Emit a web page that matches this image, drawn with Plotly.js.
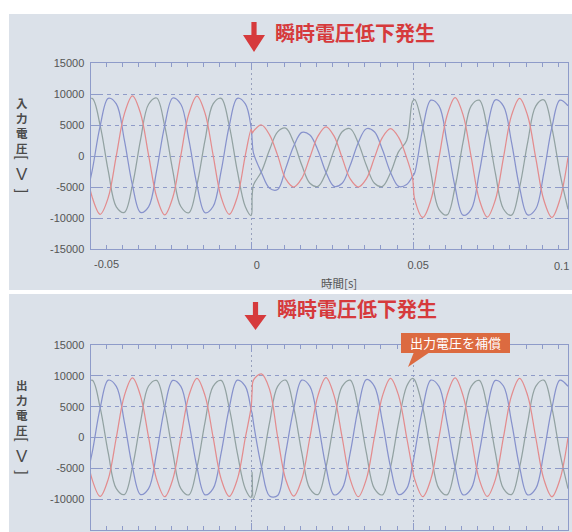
<!DOCTYPE html>
<html><head><meta charset="utf-8">
<script src="https://cdn.plot.ly/plotly-3.0.1.min.js"></script>
<style>html,body{margin:0;padding:0;background:#fff;}#chart{width:572px;height:532px;}</style>
</head><body><div id="chart"></div>
<script>
// time [s]
const t = [-0.052,-0.0495,-0.047,-0.0445,-0.042,-0.0395,-0.037,-0.0345,-0.032,-0.0295,-0.027,-0.0245,-0.022,-0.0195,-0.017,-0.0145,-0.012,-0.0095,-0.007,-0.0045,-0.002,
 -0.0002,0.0001,
 0.0005,0.003,0.0055,0.008,0.0105,0.013,0.0155,0.018,0.0205,0.023,0.0255,0.028,0.0305,0.033,0.0355,0.038,0.0405,0.043,0.0455,0.048,
 0.0498,
 0.0505,0.053,0.0555,0.058,0.0605,0.063,0.0655,0.068,0.0705,0.073,0.0755,0.078,0.0805,0.083,0.0855,0.088,0.0905,0.093,0.0955,0.098];

// input voltage [V]
const inR = [150,-6600,-9400,-6700,50,6800,9700,6900,150,-6600,-9500,-6700,100,6850,9650,6900,150,-6650,-9400,-6600,150,
 4300,3700,
 4000,5000,3400,100,-3700,-5000,-3600,-200,3200,4700,3200,-300,-3700,-5000,-3700,-300,3000,4400,3000,-300,
 -3500,
 -7000,-9900,-7100,-300,6500,9400,6600,-200,-7000,-9850,-7050,-250,6550,9300,6500,-300,-7100,-9900,-7000,-200];
const inG = [8400,9300,4900,-2400,-8200,-9100,-4700,2600,8350,9350,4850,-2350,-8150,-9150,-4650,2550,8400,9300,4900,-2400,-8200,
 -9600,-6500,
 -4700,-2500,1000,3900,4500,2200,-1500,-4400,-4900,-2700,950,3900,4400,2100,-1500,-4400,-4900,-2700,700,2500,
 8800,
 9100,4600,-2700,-8600,-9500,-5000,2300,8100,9000,4500,-2800,-8550,-9550,-5050,2200,8050,9050,4550,-2750,-8600];
const inB = [-8150,-2400,4850,9300,8400,2550,-4700,-9100,-8200,-2350,4900,9350,8350,2600,-4650,-9150,-8150,-2400,4850,9300,8400,
 4500,2500,
 500,-2700,-5200,-5400,-2000,1600,3800,3400,900,-2650,-4900,-4400,-1500,2150,4400,3900,1000,-2650,-4900,-4600,
 -3300,
 -2700,4500,9000,8100,2250,-5000,-9550,-8600,-2700,4550,9050,8050,2200,-5100,-9500,-8550,-2750,4600,9000,8100];

// output voltage [V]
const outR = [50,-6800,-9550,-6750,0,6800,9650,6750,50,-6800,-9600,-6800,0,6800,9600,6800,50,-6750,-9550,-6800,0,
 5000,7500,
 9300,10300,7800,100,-6800,-9500,-6750,0,6800,9700,6800,0,-6800,-9600,-6750,50,6750,9600,6800,0,
 -5150,
 -6800,-9600,-6750,0,6800,9650,6750,0,-6800,-9550,-6800,50,6800,9600,6800,0,-6750,-9600,-6800,0];
const outG = [8300,9300,4800,-2500,-8300,-9250,-4800,2500,8350,9250,4750,-2450,-8300,-9300,-4850,2500,8300,9250,4800,-2500,-8350,
 -9700,-5600,
 -9900,-4900,2400,8300,9300,4800,-2500,-8300,-9250,-4800,2500,8300,9300,4800,-2450,-8300,-9300,-4800,2500,8300,
 9600,
 9300,4800,-2500,-8300,-9300,-4800,2500,8300,9250,4850,-2500,-8300,-9250,-4800,2450,8300,9300,4800,-2500,-8300];
const outB = [-8300,-2500,4800,9300,8300,2500,-4800,-9250,-8300,-2500,4850,9250,8300,2450,-4800,-9300,-8300,-2500,4800,9300,8300,
 4450,3900,
 2400,-4800,-9500,-9400,-2500,4700,9300,8300,2500,-4800,-9300,-8300,-2500,4800,9400,8300,2500,-4800,-9250,-8300,
 -4450,
 -2500,4800,9300,8300,2500,-4800,-9300,-8300,-2450,4800,9250,8350,2500,-4800,-9300,-8300,-2500,4750,9300,8300];

const xTickVals = [-0.05, 0, 0.05, 0.1];
const xTickText = ['-0.05', '0', '0.05', '0.1'];
const yTickVals = [15000, 10000, 5000, 0, -5000, -10000, -15000];
const yTickText = ['15000', '10000', '5000', '0', '-5000', '-10000', '-15000'];

const titleText = '瞬時電圧低下発生';
const calloutText = '出力電圧を補償';
const xTitle = '時間[s]';
const yTitleTop = '入力電圧';
const yTitleBottom = '出力電圧';
const yUnit = ['[', 'V', ']'];

// ---- layout helpers ----
const W = 572, H = 532;
const px = x => x / W, py = y => 1 - y / H;
const panelColor = '#dbe1e9';
const axisBlue = '#8e9bc9';
const latin = 'Liberation Sans, Arial, sans-serif';
const tickFont = {family: latin, size: 11, color: '#555555'};
const cjk = 'Noto Sans CJK JP, sans-serif';
const colors = {R: '#e38c8e', G: '#92a2a2', B: '#8792cc'};

function trace(y, color, xa, ya) {
  return {x: t, y: y, type: 'scatter', mode: 'lines', xaxis: xa, yaxis: ya,
    line: {color: color, width: 1.25, shape: 'spline', smoothing: 1}, hoverinfo: 'skip'};
}
const data = [
  trace(inG, colors.G, 'x', 'y'), trace(inB, colors.B, 'x', 'y'), trace(inR, colors.R, 'x', 'y'),
  trace(outG, colors.G, 'x2', 'y2'), trace(outB, colors.B, 'x2', 'y2'), trace(outR, colors.R, 'x2', 'y2')
];

function xAxis(anchor, labels) {
  return {anchor: anchor, domain: [px(90.5), px(568)], range: [-0.05, 0.098],
    tickmode: 'array', tickvals: xTickVals.slice(0, 3), ticktext: ['', xTickText[1], xTickText[2]],
    showticklabels: labels,
    ticks: 'inside', ticklen: 7, tickcolor: axisBlue, showline: true, mirror: 'ticks', linecolor: axisBlue, linewidth: 1,
    showgrid: true, gridcolor: '#97a0bc', griddash: '2px,3px', gridwidth: 1, zeroline: false,
    minor: {tickmode: 'linear', tick0: 0, dtick: 0.005, ticks: 'inside', ticklen: 4, tickcolor: axisBlue, showgrid: false},
    tickfont: tickFont, ticklabelstandoff: 6, ticklabelshift: 5, fixedrange: true};
}
function yAxis(anchor, top, bottom) {
  return {anchor: anchor, domain: [py(bottom), py(top)], range: [-15000, 15000],
    tickmode: 'array', tickvals: yTickVals, ticktext: yTickText,
    ticks: 'inside', ticklen: 9, tickcolor: axisBlue, showline: true, mirror: 'ticks', linecolor: axisBlue, linewidth: 1,
    showgrid: true, gridcolor: '#8f9bc8', griddash: '4px,4px', gridwidth: 1, zeroline: false,
    tickfont: tickFont, ticklabelstandoff: 3, fixedrange: true};
}

function arrowPath(cx, yTop, yBase, yTip, sh, hh) {
  const P = (x, y) => px(x) + ',' + py(y);
  return 'M ' + P(cx - sh, yTop) + ' L ' + P(cx + sh, yTop) + ' L ' + P(cx + sh, yBase) + ' L ' + P(cx + hh, yBase) +
    ' L ' + P(cx, yTip) + ' L ' + P(cx - hh, yBase) + ' L ' + P(cx - sh, yBase) + ' Z';
}
const red = '#d63a3c';
const shapes = [
  {type: 'rect', xref: 'paper', yref: 'paper', x0: px(9), x1: 1, y0: py(290), y1: py(14), fillcolor: panelColor, line: {width: 0}, layer: 'below'},
  {type: 'rect', xref: 'paper', yref: 'paper', x0: px(9), x1: 1, y0: 0, y1: py(294), fillcolor: panelColor, line: {width: 0}, layer: 'below'},
  {type: 'path', xref: 'paper', yref: 'paper', path: arrowPath(254, 22, 35, 52, 2.6, 11), fillcolor: red, line: {width: 0}},
  {type: 'path', xref: 'paper', yref: 'paper', path: arrowPath(255.5, 302, 315, 330, 2.6, 11), fillcolor: red, line: {width: 0}},
  {type: 'rect', xref: 'paper', yref: 'paper', x0: px(401), x1: px(510), y0: py(353), y1: py(333), fillcolor: '#dc6a40', line: {width: 0}},
  {type: 'path', xref: 'paper', yref: 'paper', path: 'M ' + px(414) + ',' + py(352) + ' L ' + px(430) + ',' + py(352) + ' L ' + px(408) + ',' + py(367) + ' Z', fillcolor: '#dc6a40', line: {width: 0}}
];

const ann = [];
function note(text, x, y, opts) {
  ann.push(Object.assign({text: text, xref: 'paper', yref: 'paper', x: px(x), y: py(y), showarrow: false,
    xanchor: 'center', yanchor: 'middle', font: {family: cjk, size: 14, color: '#4f4f4f'}}, opts || {}));
}
const vert = s => s.split('').join('<br>');
const titleFont = {family: cjk, size: 11.5, color: '#4a4a4a', weight: 700};
note(titleText, 273, 32.5, {xanchor: 'left', font: {family: cjk, size: 20, color: red, weight: 700}});
note(titleText, 275, 308, {xanchor: 'left', font: {family: cjk, size: 20, color: red, weight: 700}});
note(vert(yTitleTop), 21.5, 125.5, {font: titleFont});
note(yUnit[0], 21.5, 157, {textangle: 90, font: {family: latin, size: 14, color: '#4a4a4a'}});
note(yUnit[1], 21.5, 174, {font: {family: latin, size: 17, color: '#4a4a4a'}});
note(yUnit[2], 21.5, 190.5, {textangle: 90, font: {family: latin, size: 14, color: '#4a4a4a'}});
note(vert(yTitleBottom), 22, 407.5, {font: titleFont});
note(yUnit[0], 22, 439.5, {textangle: 90, font: {family: latin, size: 14, color: '#4a4a4a'}});
note(yUnit[1], 22, 456, {font: {family: latin, size: 17, color: '#4a4a4a'}});
note(yUnit[2], 22, 472.5, {textangle: 90, font: {family: latin, size: 14, color: '#4a4a4a'}});
note(xTitle, 339, 283, {font: {family: cjk, size: 11.5, color: '#555555'}});
note(xTickText[0], 106, 264, {font: tickFont});
note(xTickText[3], 571, 266, {xanchor: 'right', font: tickFont});
note(calloutText, 455.5, 342.5, {font: {family: cjk, size: 13, color: '#ffffff'}});

const layout = {
  width: W, height: H, margin: {l: 0, r: 0, t: 0, b: 0}, paper_bgcolor: '#ffffff', plot_bgcolor: 'rgba(0,0,0,0)',
  showlegend: false,
  xaxis: xAxis('y', true), yaxis: yAxis('x', 63, 249),
  xaxis2: xAxis('y2', false), yaxis2: yAxis('x2', 345, 530),
  shapes: shapes, annotations: ann
};
Plotly.newPlot('chart', data, layout, {staticPlot: true, displayModeBar: false});
</script></body></html>
